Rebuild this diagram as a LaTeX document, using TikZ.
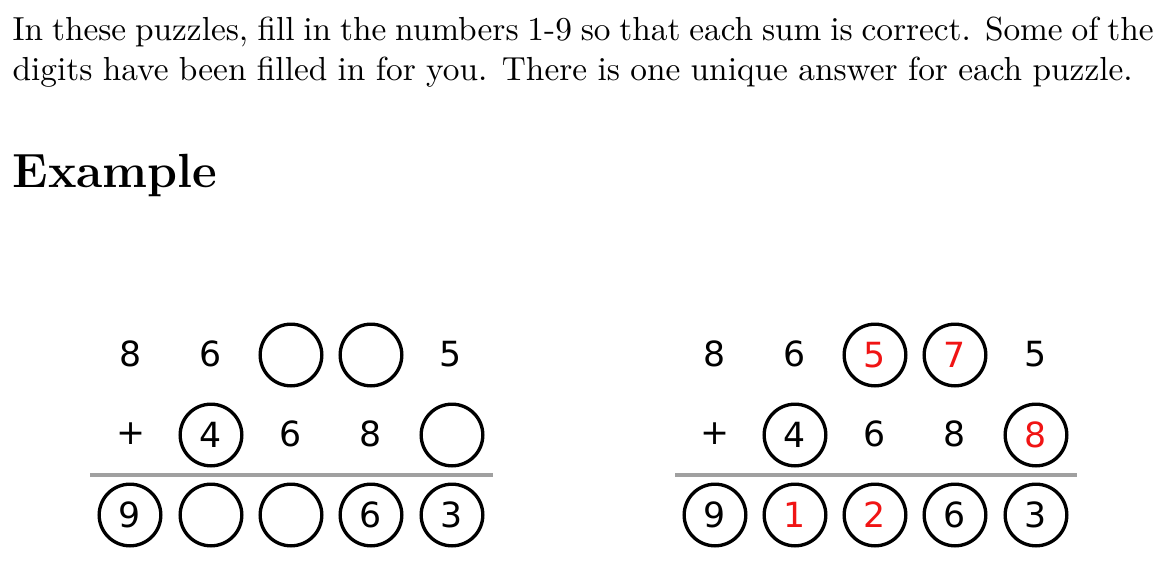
\documentclass[tikz,border=0pt]{standalone}
\usepackage{fontspec}
\newfontfamily\digitfont{DejaVu Sans}
\definecolor{ansred}{RGB}{240,20,20}
\definecolor{rulegray}{RGB}{160,160,160}
\begin{document}
\begin{tikzpicture}[x=0.3pt,y=-0.3pt,
  txt/.style={anchor=base west,inner sep=0pt},
  dig/.style={font=\digitfont\fontsize{10.4}{12}\selectfont,inner sep=0pt,anchor=center},
  circ/.style={dig,circle,draw,line width=1pt,minimum size=18.5pt},
  ans/.style={text=ansred},
  sumrule/.style={draw=rulegray,line width=1.2pt}]
\useasboundingbox (0,0) rectangle (1167,574);
% text
\node[txt] (l1) at (12,40) {\makebox[342.3pt][s]{In these puzzles, fill in the numbers 1-9 so that each sum is correct. Some of the}};
\node[txt] (l2) at (12,80) {\makebox[336pt][s]{digits have been filled in for you. There is one unique answer for each puzzle.}};
\node[txt,font=\Large\bfseries] (ex) at (12,187) {Example};
% left puzzle
\node[dig] (a11) at (131,354) {8};
\node[dig] (a12) at (211,354) {6};
\node[circ] (a13) at (291,355) {};
\node[circ] (a14) at (371,355) {};
\node[dig] (a15) at (451,354) {5};
\node[dig] (a20) at (131,434) {+};
\node[circ] (a22) at (211,435) {4};
\node[dig] (a23) at (291,434) {6};
\node[dig] (a24) at (371,434) {8};
\node[circ] (a25) at (452,435) {};
\coordinate (aL) at (90,475);
\coordinate (aR) at (493,475);
\draw[sumrule] (aL) -- (aR);
\node[circ] (a31) at (130,515) {9};
\node[circ] (a32) at (211,515) {};
\node[circ] (a33) at (291,515) {};
\node[circ] (a34) at (371,515) {6};
\node[circ] (a35) at (452,515) {3};
% right puzzle
\node[dig] (b11) at (715,354) {8};
\node[dig] (b12) at (795,354) {6};
\node[circ,ans] (b13) at (875,355) {5};
\node[circ,ans] (b14) at (955,355) {7};
\node[dig] (b15) at (1036,354) {5};
\node[dig] (b20) at (715,434) {+};
\node[circ] (b22) at (795,435) {4};
\node[dig] (b23) at (875,434) {6};
\node[dig] (b24) at (955,434) {8};
\node[circ,ans] (b25) at (1036,435) {8};
\coordinate (bL) at (675,475);
\coordinate (bR) at (1077,475);
\draw[sumrule] (bL) -- (bR);
\node[circ] (b31) at (715,515) {9};
\node[circ,ans] (b32) at (795,515) {1};
\node[circ,ans] (b33) at (875,515) {2};
\node[circ] (b34) at (955,515) {6};
\node[circ] (b35) at (1036,515) {3};
\end{tikzpicture}
\end{document}
